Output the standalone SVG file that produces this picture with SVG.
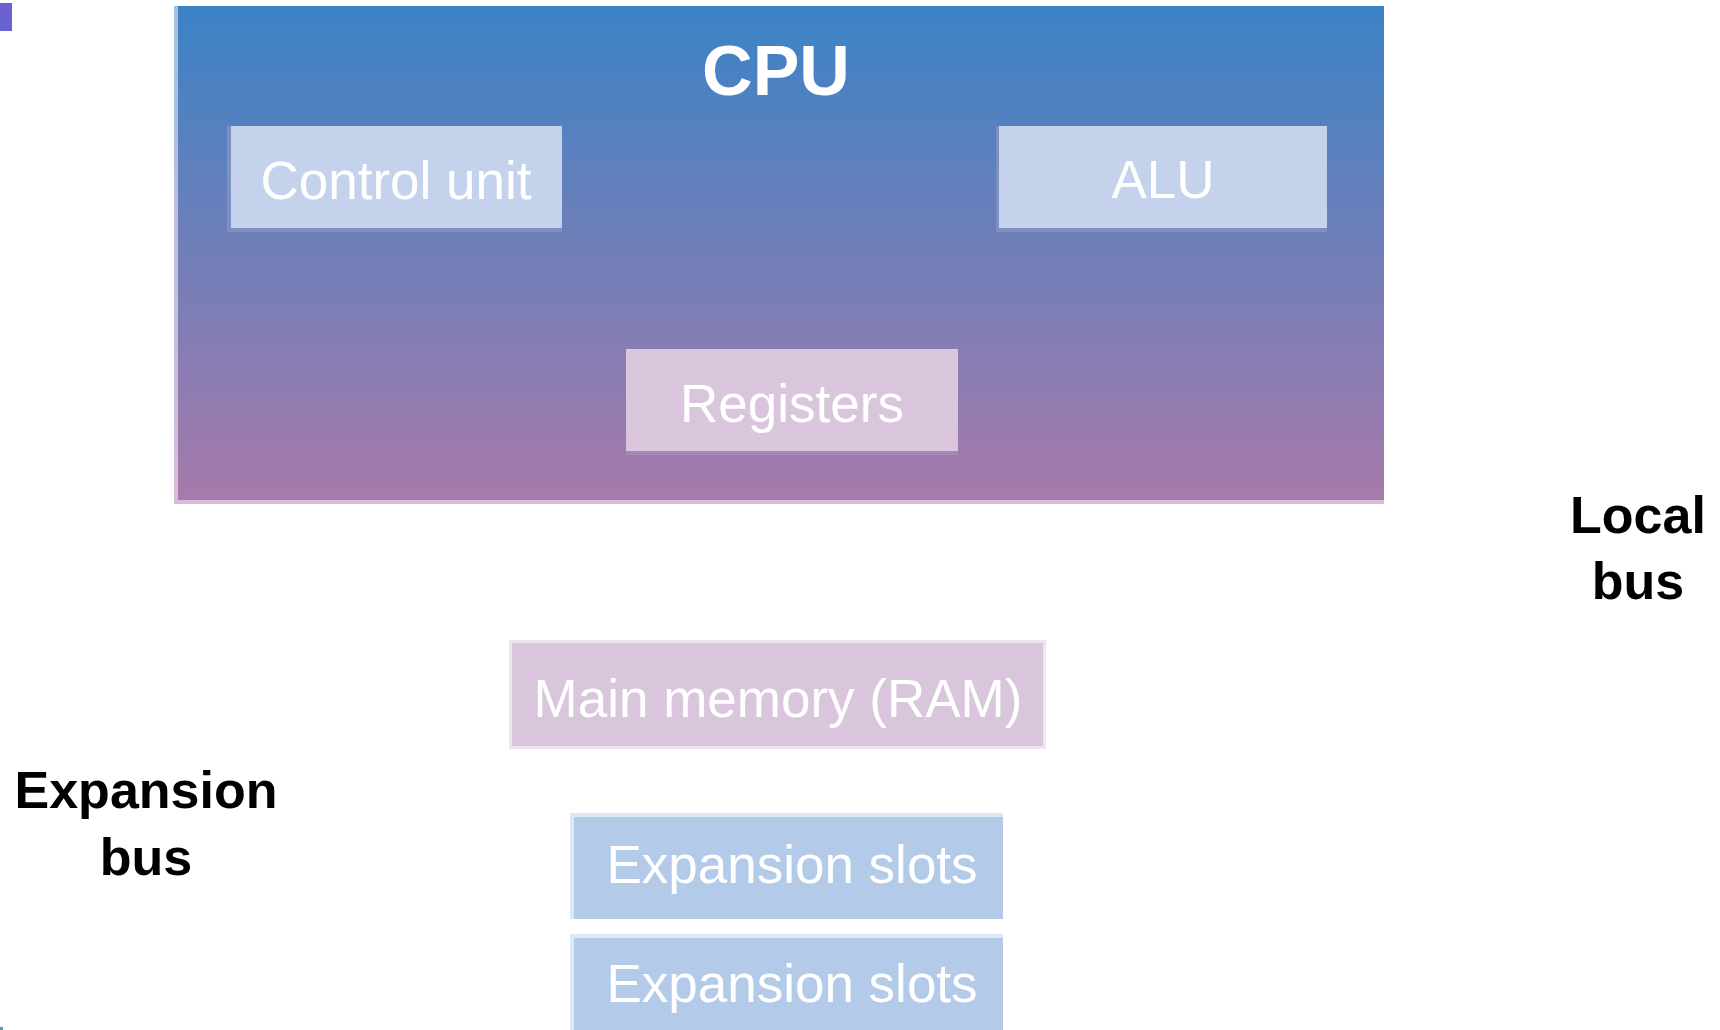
<svg xmlns="http://www.w3.org/2000/svg" width="1720" height="1030" viewBox="0 0 1720 1030">
<defs>
<linearGradient id="cpuGrad" x1="0" y1="0" x2="0" y2="1">
<stop offset="0" stop-color="#3b83c6"/>
<stop offset="1" stop-color="#a77aab"/>
</linearGradient>
<linearGradient id="cpuEdge" x1="0" y1="0" x2="0" y2="1">
<stop offset="0" stop-color="#a3c0e2"/>
<stop offset="1" stop-color="#d8bdd8"/>
</linearGradient>
</defs>
<style>
.box-text{font-family:"Liberation Sans",Arial,sans-serif;font-size:53px;fill:#ffffff;text-anchor:middle}
.bold-label{font-family:"Liberation Sans",Arial,sans-serif;font-size:52px;font-weight:bold;fill:#000000;text-anchor:middle}
.title{font-family:"Liberation Sans",Arial,sans-serif;font-size:70px;font-weight:bold;fill:#ffffff;text-anchor:middle}
.blue-inner{fill:#c4d3eb}
.blue-shadow{fill:#7e8fc2}
.pink{fill:#d9c5dc}
.pink-shadow{fill:#a987b0}
.slot{fill:#b3cbe9}
.slot-edge{fill:#dde8f6}
</style>
<rect width="1720" height="1030" fill="#ffffff"/>
<rect x="0" y="3" width="12" height="28" fill="#6a62d0"/>
<rect x="0" y="1027" width="3" height="3" fill="#5a9aa0"/>

<g id="cpu">
<rect x="174" y="6" width="1210" height="498" fill="url(#cpuEdge)"/>
<rect x="178" y="6" width="1206" height="494" fill="url(#cpuGrad)"/>
<text class="title" x="776" y="95">CPU</text>
</g>

<g id="control-unit">
<rect class="blue-shadow" x="227" y="126" width="335" height="106"/>
<rect class="blue-inner" x="231" y="126" width="331" height="102"/>
<text class="box-text" x="396" y="199">Control unit</text>
</g>

<g id="alu">
<rect class="blue-shadow" x="996" y="126" width="331" height="106"/>
<rect class="blue-inner" x="999" y="126" width="328" height="102"/>
<text class="box-text" x="1163" y="198">ALU</text>
</g>

<g id="registers">
<rect class="pink-shadow" x="626" y="349" width="332" height="106"/>
<rect class="pink" x="626" y="349" width="332" height="102"/>
<text class="box-text" x="792" y="422">Registers</text>
</g>

<g id="local-bus">
<text class="bold-label" x="1638" y="533">Local</text>
<text class="bold-label" x="1638" y="599">bus</text>
</g>

<g id="main-memory">
<rect x="509" y="640" width="537" height="109" fill="#efe5f0"/>
<rect class="pink" x="512" y="643" width="531" height="103"/>
<text class="box-text" x="778" y="717">Main memory (RAM)</text>
</g>

<g id="expansion-bus">
<text class="bold-label" x="146" y="808">Expansion</text>
<text class="bold-label" x="146" y="875">bus</text>
</g>

<g id="expansion-slots-1">
<rect class="slot-edge" x="570" y="813" width="433" height="106"/>
<rect class="slot" x="574" y="817" width="429" height="102"/>
<text class="box-text" x="792" y="883">Expansion slots</text>
</g>

<g id="expansion-slots-2">
<rect class="slot-edge" x="570" y="934" width="433" height="96"/>
<rect class="slot" x="574" y="938" width="429" height="92"/>
<text class="box-text" x="792" y="1002">Expansion slots</text>
</g>

<g id="connectors"/>
</svg>
